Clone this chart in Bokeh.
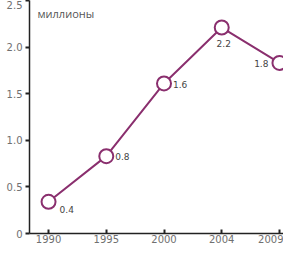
from bokeh.plotting import figure
from bokeh.models import ColumnDataSource, FixedTicker, Range1d, Label
from bokeh.core.properties import value
from bokeh.embed import file_html
from bokeh.resources import INLINE

years = ["1990", "1995", "2000", "2004", "2009"]
values = [0.34, 0.83, 1.61, 2.21, 1.83]
labels = ["0.4", "0.8", "1.6", "2.2", "1.8"]
y_ticks = [0, 0.5, 1.0, 1.5, 2.0, 2.5]

# label placement (style)
lx_off = [11, 9, 9, 2, -11]
ly_off = [8, 0, 1, 16, 1]
l_align = ["left", "left", "left", "center", "right"]

xs = list(range(len(years)))
src = ColumnDataSource(dict(x=xs, y=values, lab=labels, dx=lx_off, dy=ly_off, al=l_align))

col = "#8a2f6e"
p = figure(width=283, height=245, output_backend="svg", toolbar_location=None,
           x_range=Range1d(-0.33, 4.07), y_range=Range1d(0, 2.5),
           min_border_left=29, min_border_right=0, min_border_top=0, min_border_bottom=0)
p.outline_line_color = None
p.grid.grid_line_color = None
p.background_fill_color = "white"

p.line("x", "y", source=src, line_color=col, line_width=2)
p.scatter("x", "y", source=src, size=14, fill_color="white", line_color=col, line_width=2)
p.text("x", "y", text="lab", source=src, x_offset="dx", y_offset="dy",
       text_font=value("DejaVu Sans"), text_font_size="9px", text_color="#444444",
       text_baseline="middle", text_align="al")

p.xaxis.ticker = FixedTicker(ticks=xs)
p.xaxis.major_label_overrides = {i: y for i, y in enumerate(years)}
p.yaxis.ticker = FixedTicker(ticks=y_ticks)
p.yaxis.major_label_overrides = {0: "0", 0.5: "0.5", 1.0: "1.0", 1.5: "1.5", 2.0: "2.0", 2.5: "2.5"}

for ax in (p.xaxis, p.yaxis):
    ax.axis_line_color = "#222222"
    ax.axis_line_width = 1.5
    ax.major_tick_line_color = "#222222"
    ax.major_tick_line_width = 2
    ax.minor_tick_line_color = None
    ax.major_label_text_font = "DejaVu Sans"
    ax.major_label_text_font_size = "10px"
    ax.major_label_text_color = "#707070"
p.xaxis.major_tick_in = 4
p.xaxis.major_tick_out = 0
p.yaxis.major_tick_in = 0
p.yaxis.major_tick_out = 4
p.yaxis.major_label_standoff = 3
p.xaxis.major_label_standoff = 1

p.add_layout(Label(x=-0.33, y=2.5, x_offset=8, y_offset=-13, text="миллионы",
                   text_font="Open Sans", text_font_size="11px", text_color="#555555",
                   text_baseline="alphabetic"))

open("out.html", "w").write(file_html(p, INLINE))
